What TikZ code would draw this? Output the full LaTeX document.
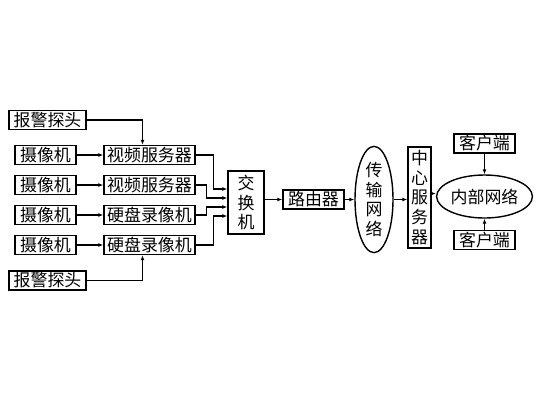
\documentclass[tikz,border=0pt]{standalone}
\usepackage{fontspec}
\newfontfamily\cjk{Noto Sans CJK SC}
\usetikzlibrary{shapes.geometric,arrows.meta}
\begin{document}
\begin{tikzpicture}[x=1bp,y=-1bp,
    box/.style={draw,line width=1.4bp,inner sep=0pt,minimum height=19bp,
      align=center,font=\cjk\fontsize{17}{20}\selectfont},
    oval/.style={box,ellipse},
    link/.style={line width=1.1bp,-{Latex[length=5bp,width=4bp]}}]
  \useasboundingbox (0,0) rectangle (536,401);
  % sources
  \node[box,minimum width=77bp] (alarmA) at (47.5,120) {报警探头};
  \node[box,minimum width=61bp] (camA) at (45.5,155) {摄像机};
  \node[box,minimum width=61bp] (camB) at (45.5,185) {摄像机};
  \node[box,minimum width=61bp] (camC) at (45.5,215) {摄像机};
  \node[box,minimum width=61bp] (camD) at (45.5,245) {摄像机};
  \node[box,minimum width=77bp] (alarmB) at (47.5,280.5) {报警探头};
  % recorders
  \node[box,minimum width=91bp] (srvA) at (149.5,155) {视频服务器};
  \node[box,minimum width=91bp] (srvB) at (149.5,185) {视频服务器};
  \node[box,minimum width=91bp] (dvrA) at (149.5,215) {硬盘录像机};
  \node[box,minimum width=91bp] (dvrB) at (149.5,245) {硬盘录像机};
  % network
  \node[box,minimum width=36bp,minimum height=63bp] (switch) at (246,202.5) {交\\换\\机};
  \node[box,minimum width=61bp] (router) at (313.5,199.5) {路由器};
  \node[oval,minimum width=38bp,minimum height=89bp] (trans) at (374,199.5) {传\\输\\网\\络};
  \node[box,minimum width=23bp,minimum height=101bp] (center) at (419.5,197.5) {中\\心\\服\\务\\器};
  \node[oval,minimum width=85bp,minimum height=43bp] (inner) at (484.5,196.5) {内部网络};
  \node[box,minimum width=61bp] (clientA) at (484.5,143.5) {客户端};
  \node[box,minimum width=61bp] (clientB) at (484.5,240) {客户端};

  \draw[link] (camA) -- (srvA);
  \draw[link] (camB) -- (srvB);
  \draw[link] (camC) -- (dvrA);
  \draw[link] (camD) -- (dvrB);
  \draw[link] (alarmA.east) -| ([xshift=-7bp]srvA.north);
  \draw[link] (alarmB.east) -| ([xshift=-7bp]dvrB.south);
  \draw[link] (srvA.east) -- ++(18,0) |- ([yshift=13.5bp]switch.west);
  \draw[link] (srvB.east) -- ++(11,0) |- ([yshift=4.5bp]switch.west);
  \draw[link] (dvrA.east) -- ++(11,0) |- ([yshift=-4.5bp]switch.west);
  \draw[link] (dvrB.east) -- ++(18,0) |- ([yshift=-13.5bp]switch.west);
  \draw[link] (switch.east |- router) -- (router.west);
  \draw[link] (router) -- (trans);
  \draw[link] (trans.east) -- (trans.east -| center.west);
  \draw[link] ([yshift=4bp]center.east) -- ([yshift=4bp]center.east -| inner.west);
  \draw[link] (clientA) -- (inner);
  \draw[link] (clientB) -- (inner);
\end{tikzpicture}
\end{document}
